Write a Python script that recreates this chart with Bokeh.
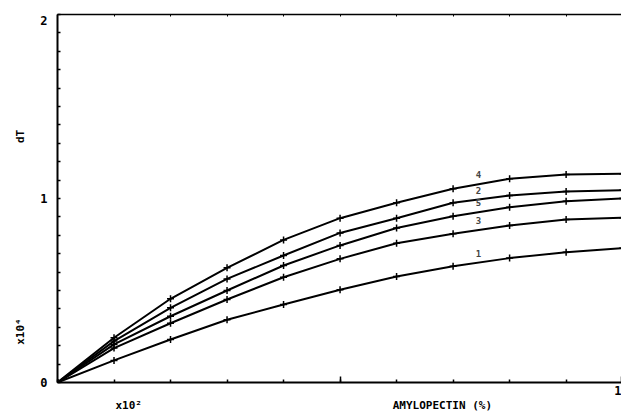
from bokeh.plotting import figure
from bokeh.models import Range1d, FixedTicker, LinearAxis
from bokeh.embed import file_html
from bokeh.resources import INLINE
from bokeh.models import Label

# ---- data (x in units of 10^2 %, y in units of 10^4) ----
x = [0.0, 0.1, 0.2, 0.3, 0.4, 0.5, 0.6, 0.7, 0.8, 0.9, 1.0]
curve1 = [0.0, 0.120, 0.234, 0.341, 0.424, 0.504, 0.576, 0.632, 0.676, 0.708, 0.730]
curve3 = [0.0, 0.187, 0.322, 0.451, 0.572, 0.672, 0.757, 0.808, 0.853, 0.886, 0.895]
curve5 = [0.0, 0.207, 0.360, 0.500, 0.636, 0.745, 0.840, 0.904, 0.953, 0.985, 1.000]
curve2 = [0.0, 0.225, 0.406, 0.563, 0.690, 0.813, 0.893, 0.977, 1.016, 1.038, 1.045]
curve4 = [0.0, 0.243, 0.455, 0.623, 0.775, 0.893, 0.977, 1.053, 1.107, 1.130, 1.135]
curve_names = ["1", "3", "5", "2", "4"]
curves = [curve1, curve3, curve5, curve2, curve4]

y_tick_labels = {0.0: "0", 1.0: "1", 1.967: "2"}
x_tick_labels = {0.5: "", 0.998: "1"}
y_title_labels = {1.337: "dT", 0.277: "x10\u2074"}
x_title_labels = {0.126: "x10\u00b2", 0.681: "AMYLOPECTIN (%)"}

x_minor = [0.1 * i for i in range(0, 11)]
y_minor = [0.1 * i for i in range(0, 21)]

FONT = "DejaVu Sans Mono"

p = figure(width=621, height=416, output_backend="svg", toolbar_location=None,
           x_range=Range1d(0, 0.998), y_range=Range1d(0, 2),
           min_border_left=57, min_border_right=0, min_border_top=14, min_border_bottom=34,
           x_axis_location=None, y_axis_location=None)
p.grid.visible = False
p.outline_line_color = None
p.background_fill_color = "white"
p.border_fill_color = "white"


def style_labels(ax, size="11px"):
    ax.major_label_text_font = FONT
    ax.major_label_text_font_style = "bold"
    ax.major_label_text_font_size = size
    ax.major_label_text_color = "black"


# bottom axis (frame line + ticks + "1")
xa = LinearAxis(ticker=FixedTicker(ticks=list(x_tick_labels), minor_ticks=x_minor),
                major_label_overrides=x_tick_labels)
xa.axis_line_width = 2
xa.axis_line_color = "black"
xa.major_tick_in = 6
xa.major_tick_out = 0
xa.minor_tick_in = 3
xa.minor_tick_out = 0
xa.major_tick_line_width = 1.5
xa.minor_tick_line_width = 1.5
xa.major_label_standoff = 3
style_labels(xa, "12px")
p.add_layout(xa, "below")

# second bottom "axis" carrying the axis titles
xb = LinearAxis(ticker=FixedTicker(ticks=list(x_title_labels), minor_ticks=[]),
                major_label_overrides=x_title_labels)
xb.axis_line_color = None
xb.major_tick_line_color = None
xb.major_tick_in = 0
xb.major_tick_out = 0
xb.major_label_standoff = 1
style_labels(xb, "11px")
p.add_layout(xb, "below")

# left axis (frame line + ticks + 0/1/2)
ya = LinearAxis(ticker=FixedTicker(ticks=list(y_tick_labels), minor_ticks=y_minor),
                major_label_overrides=y_tick_labels)
ya.axis_line_width = 2
ya.axis_line_color = "black"
ya.major_tick_line_color = None
ya.major_tick_in = 0
ya.major_tick_out = 0
ya.minor_tick_in = 3
ya.minor_tick_out = 0
ya.minor_tick_line_width = 1.5
ya.major_label_standoff = 10
style_labels(ya, "12px")
p.add_layout(ya, "left")

# second left "axis" carrying the rotated titles
yb = LinearAxis(ticker=FixedTicker(ticks=list(y_title_labels), minor_ticks=[]),
                major_label_overrides=y_title_labels, major_label_orientation="vertical")
yb.axis_line_color = None
yb.major_tick_line_color = None
yb.major_tick_in = 0
yb.major_tick_out = 0
yb.major_label_standoff = 10
style_labels(yb, "11px")
p.add_layout(yb, "left")

# top frame line
ta = LinearAxis(ticker=FixedTicker(ticks=[], minor_ticks=x_minor))
ta.axis_line_width = 1.5
ta.minor_tick_in = 2
ta.minor_tick_out = 0
p.add_layout(ta, "above")

# curves
for name, ys in zip(curve_names, curves):
    p.line(x, ys, line_color="black", line_width=2)
    p.scatter(x, ys, marker="cross", size=7, line_color="black", line_width=1.5)

# curve labels, placed near x = 0.745 just above each curve
lx = 0.745
for name, ys in zip(curve_names, curves):
    ly = ys[7] + (ys[8] - ys[7]) * 0.45
    p.add_layout(Label(x=lx, y=ly, y_offset=6, text=name, text_font=FONT,
                       text_font_style="bold", text_font_size="9px",
                       text_align="center", text_baseline="bottom"))

open("out.html", "w").write(file_html(p, INLINE))
